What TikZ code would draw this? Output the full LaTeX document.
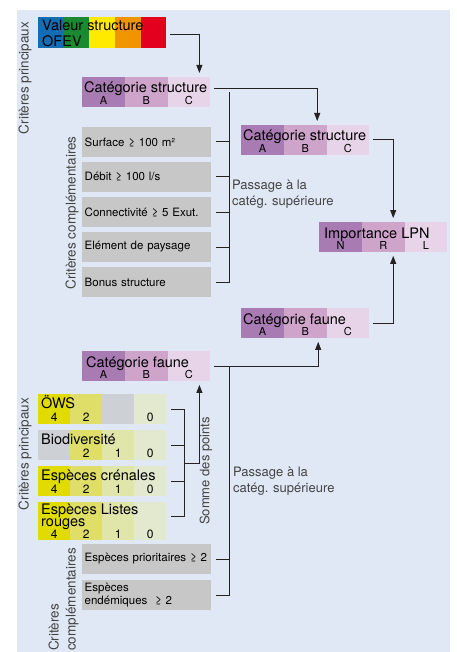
\documentclass[tikz,border=0pt]{standalone}
\usepackage{fontspec}
\setmainfont{TeX Gyre Heros}
\usetikzlibrary{arrows.meta}

\definecolor{panel}{RGB}{223,232,244}
\definecolor{ink}{RGB}{35,35,35}
\definecolor{purA}{RGB}{168,123,179}
\definecolor{purB}{RGB}{206,164,203}
\definecolor{purC}{RGB}{231,212,232}
\definecolor{boxgrey}{RGB}{199,199,199}
\definecolor{yelA}{RGB}{224,219,0}
\definecolor{yelB}{RGB}{222,222,105}
\definecolor{yelC}{RGB}{224,230,170}
\definecolor{yelD}{RGB}{226,233,207}
\definecolor{yelG}{RGB}{205,208,212}
\definecolor{ofevA}{RGB}{20,108,178}
\definecolor{ofevB}{RGB}{26,138,50}
\definecolor{ofevC}{RGB}{255,234,0}
\definecolor{ofevD}{RGB}{240,148,0}
\definecolor{ofevE}{RGB}{226,0,30}

\tikzset{
  cell/.style={anchor=north west, inner sep=0pt, minimum height=29.5pt},
  catframe/.style={anchor=north west, inner sep=0pt, minimum width=128pt, minimum height=29.5pt},
  greybox/.style={catframe, fill=boxgrey, text width=124pt, inner xsep=2.5pt, align=left,
    font=\fontsize{11.5}{13.5}\selectfont},
  boxtitle/.style={anchor=base west, inner sep=0pt, align=left, font=\fontsize{14.5}{16}\selectfont},
  collabel/.style={anchor=base, inner sep=0pt, yshift=2.5pt, font=\fontsize{11}{11}\selectfont},
  numlabel/.style={anchor=base, inner sep=0pt, yshift=2pt, font=\fontsize{12}{12}\selectfont},
  sidelabel/.style={rotate=90, inner sep=0pt, align=left, text=ink!85, font=\fontsize{13.5}{17}\selectfont},
  passnote/.style={anchor=base west, inner sep=0pt, align=left, text=ink!85, font=\fontsize{13}{15.5}\selectfont},
  joinline/.style={draw=ink, line width=0.9pt},
  arr/.style={joinline, -{Triangle[length=8pt,width=6pt]}, shorten >=4pt},
}

\begin{document}
\begin{tikzpicture}[x=1pt,y=-1pt]
  \fill[white] (0,0) rectangle (456,652);
  \useasboundingbox (0,0) rectangle (456,652);
  \fill[panel] (17,10) rectangle (450,652);

  % side labels
  \node[sidelabel] (lab1) at (25,78) {Critères principaux};
  \node[sidelabel] (lab2) at (72,213) {Critères complémentaires};
  \node[sidelabel] (lab3) at (25,454) {Critères principaux};
  \node[sidelabel, anchor=west] (lab4) at (63.5,651) {Critères\\complémentaires};

  % Valeur structure OFEV
  \node[catframe, minimum height=31pt] (ofev) at (38,17) {};
  \foreach \c [count=\i from 0] in {ofevA,ofevB,ofevC,ofevD,ofevE}
    \node[cell, fill=\c, minimum width=25.8pt, minimum height=31pt] at (38+25.6*\i,17) {};
  \node[boxtitle] at (42,47) {Valeur structure\\OFEV};

  % Catégorie structure (1)
  \node[catframe] (cs1) at (82,77) {};
  \foreach \c/\l [count=\i from 0] in {purA/A,purB/B,purC/C}
    \node[cell, fill=\c, minimum width=42.8pt, label={[collabel]south:\l}] at (82+42.67*\i,77) {};
  \node[boxtitle] at (84,93) {Catégorie structure};

  % critères complémentaires structure
  \foreach \t [count=\i] in {Surface ≥ 100 m²,Débit ≥ 100 l/s,Connectivité ≥ 5 Exut.,Elément de paysage,Bonus structure}
    \node[greybox] (g\i) at (82,92+35*\i) {\t};

  % Catégorie structure (2)
  \node[catframe] (cs2) at (241,125) {};
  \foreach \c/\l [count=\i from 0] in {purA/A,purB/B,purC/C}
    \node[cell, fill=\c, minimum width=42.8pt, label={[collabel]south:\l}] at (241+42.67*\i,125) {};
  \node[boxtitle] at (243,141) {Catégorie structure};

  % Importance LPN
  \node[catframe] (lpn) at (319,222) {};
  \foreach \c/\l [count=\i from 0] in {purA/N,purB/R,purC/L}
    \node[cell, fill=\c, minimum width=42.8pt, label={[collabel]south:\l}] at (319+42.67*\i,222) {};
  \node[boxtitle] at (324,238) {Importance LPN};

  % Catégorie faune (2)
  \node[catframe] (cf2) at (241,308) {};
  \foreach \c/\l [count=\i from 0] in {purA/A,purB/B,purC/C}
    \node[cell, fill=\c, minimum width=42.8pt, label={[collabel]south:\l}] at (241+42.67*\i,308) {};
  \node[boxtitle] at (243,324) {Catégorie faune};

  % Catégorie faune (1)
  \node[catframe] (cf1) at (82,351) {};
  \foreach \c/\l [count=\i from 0] in {purA/A,purB/B,purC/C}
    \node[cell, fill=\c, minimum width=42.8pt, label={[collabel]south:\l}] at (82+42.67*\i,351) {};
  \node[boxtitle] at (86,367) {Catégorie faune};

  % critères principaux faune
  \node[catframe] (ows) at (38,394) {};
  \foreach \c/\n [count=\i from 0] in {yelA/4,yelB/2,yelG/,yelD/0}
    \node[cell, fill=\c, minimum width=32.2pt, label={[numlabel]south:\n}] at (38+32*\i,394) {};
  \node[boxtitle] at (41,408) {ÖWS};

  \node[catframe] (bio) at (38,430) {};
  \foreach \c/\n [count=\i from 0] in {yelG/,yelB/2,yelC/1,yelD/0}
    \node[cell, fill=\c, minimum width=32.2pt, label={[numlabel]south:\n}] at (38+32*\i,430) {};
  \node[boxtitle] at (41,444) {Biodiversité};

  \node[catframe] (cren) at (38,466) {};
  \foreach \c/\n [count=\i from 0] in {yelA/4,yelB/2,yelC/1,yelD/0}
    \node[cell, fill=\c, minimum width=32.2pt, label={[numlabel]south:\n}] at (38+32*\i,466) {};
  \node[boxtitle] at (41,480) {Espèces crénales};

  \node[catframe, minimum height=38pt] (lr) at (38,502) {};
  \foreach \c/\n [count=\i from 0] in {yelA/4,yelB/2,yelC/1,yelD/0}
    \node[cell, fill=\c, minimum width=32.2pt, minimum height=38pt, label={[numlabel]south:\n}] at (38+32*\i,502) {};
  \node[boxtitle, font=\fontsize{14.5}{12}\selectfont] at (41,526) {Espèces Listes\\rouges};

  % critères complémentaires faune
  \node[greybox] (e1) at (82,544) {Espèces prioritaires ≥ 2};
  \node[greybox] (e2) at (82,580) {Espèces\\endémiques\ \ ≥ 2};

  % notes
  \node[passnote] (pass1) at (232,205) {Passage à la\\catég. supérieure};
  \node[passnote] (pass2) at (233,492) {Passage à la\\catég. supérieure};
  \node[sidelabel, font=\fontsize{13}{13}\selectfont] (somme) at (206,471) {Somme des points};

  % connecteurs
  \coordinate (passbar) at (229,92);
  \coordinate (sumbar) at (184,463.5);

  \draw[arr, shorten <=4pt] ([yshift=-2pt]ofev.east) -| ([xshift=-11pt]cs1.north east);
  \draw[arr, shorten <=4pt] ([yshift=3pt]cs1.east) -| ([xshift=12pt]cs2.north);
  \draw[arr, shorten <=4pt] (cs2.east) -| ([xshift=10pt]lpn.north);
  \draw[arr, shorten <=4pt] (cf2.east) -| ([xshift=10pt]lpn.south);
  \draw[arr, shorten <=4pt] (cf1.east) -| ([xshift=13pt]cf2.south);

  \foreach \g in {g1,g2,g3,g4}
    \draw[joinline, shorten <=5pt] (\g.east) -- (\g.east -| passbar);
  \draw[joinline, shorten <=5pt] (g5.east) -| (passbar);

  \draw[joinline, shorten <=5pt] (e1.east) -- (e1.east -| passbar);
  \draw[joinline, shorten <=5pt] (e2.east) -| (cf1.east -| passbar);

  \foreach \b in {ows,bio,cren}
    \draw[joinline, shorten <=5pt] (\b.east) -- (\b.east -| sumbar);
  \draw[joinline, shorten <=5pt] ([yshift=5pt]lr.east) -| (ows.east -| sumbar);
  \draw[arr] (sumbar) -| ([xshift=-11pt]cf1.south east);
\end{tikzpicture}
\end{document}
